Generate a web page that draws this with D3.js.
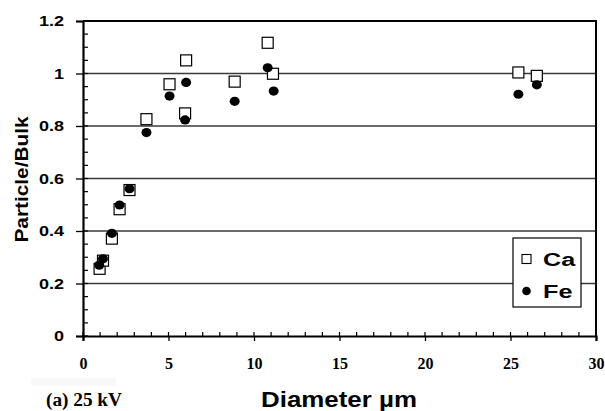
<!DOCTYPE html>
<html>
<head>
<meta charset="utf-8">
<script src="https://cdn.jsdelivr.net/npm/d3@7"></script>
<style>
  body { margin: 0; background: #fff; }
  svg { display: block; }
</style>
</head>
<body>
<svg id="chart" width="605" height="411"></svg>
<script>
// -------- data --------
const caDiam = [0.97, 1.17, 1.69, 2.14, 2.72, 3.71, 5.06, 5.97, 6.03, 8.87, 10.80, 11.11, 25.46, 26.54];
const caVal  = [0.256, 0.287, 0.371, 0.483, 0.556, 0.826, 0.959, 0.848, 1.050, 0.969, 1.117, 0.999, 1.004, 0.991];
const feDiam = [0.95, 1.17, 1.69, 2.14, 2.72, 3.71, 5.06, 5.97, 6.03, 8.87, 10.80, 11.15, 25.46, 26.54];
const feVal  = [0.270, 0.294, 0.391, 0.499, 0.561, 0.775, 0.914, 0.823, 0.966, 0.894, 1.022, 0.933, 0.921, 0.957];
const xTicks = [0, 5, 10, 15, 20, 25, 30];
const yTicks = [0, 0.2, 0.4, 0.6, 0.8, 1.0, 1.2];
const seriesNames = ["Ca", "Fe"];

const size = { w: 605, h: 411 };
const margin = { l: 83, r: 9, t: 21, b: 75 };
const SANS = "Liberation Sans, Arial, sans-serif";
const SERIF = "Liberation Serif, Times New Roman, serif";

const svg = d3.select("#chart");

// the scanned figure has wide, stretched lettering
function stretch(sel, w) {
	sel.each(function () {
		let len = typeof w === "number" ? w : this.getComputedTextLength() * w();
		d3.select(this)
			.attr("textLength", len)
			.attr("lengthAdjust", "spacingAndGlyphs");
	});
}

let xScale = d3.scaleLinear()
	.domain([0, 30])
	.range([margin.l, size.w - margin.r]);

let yScale = d3.scaleLinear()
	.domain([0, 1.2])
	.range([size.h - margin.b, margin.t]);

// gridlines
svg.append("g")
	.selectAll("line")
	.data(yTicks.filter((d) => d > 0 && d < 1.2))
	.join("line")
	.attr("x1", margin.l)
	.attr("x2", size.w - margin.r)
	.attr("y1", (d) => yScale(d))
	.attr("y2", (d) => yScale(d))
	.attr("stroke", "#3a3a3a")
	.attr("stroke-width", 1.3);

// frame top + right
svg.append("path")
	.attr("d", `M${margin.l},${yScale(1.2)}H${xScale(30)}V${yScale(0)}`)
	.attr("fill", "none")
	.attr("stroke", "#000")
	.attr("stroke-width", 2);

// minor ticks (inside)
let yMinor = d3.range(0, 1.2001, 0.05);
svg.append("g")
	.selectAll("line")
	.data(yMinor)
	.join("line")
	.attr("x1", margin.l)
	.attr("x2", margin.l + 5)
	.attr("y1", (d) => yScale(d))
	.attr("y2", (d) => yScale(d))
	.attr("stroke", "#000")
	.attr("stroke-width", 1.2);

let xMinor = d3.range(0, 30.001, 1);
svg.append("g")
	.selectAll("line")
	.data(xMinor)
	.join("line")
	.attr("x1", (d) => xScale(d))
	.attr("x2", (d) => xScale(d))
	.attr("y1", yScale(0))
	.attr("y2", yScale(0) - 4)
	.attr("stroke", "#000")
	.attr("stroke-width", 1.2);

// axes
let yAxis = d3.axisLeft(yScale)
	.tickValues(yTicks)
	.tickSize(7)
	.tickPadding(12)
	.tickFormat((d) => String(+d.toFixed(1)));
let yG = svg.append("g")
	.attr("transform", `translate(${margin.l}, 0)`)
	.call(yAxis);
yG.select(".domain").attr("stroke-width", 2.2);
yG.selectAll(".tick line").attr("stroke-width", 1.3);
yG.selectAll("text")
	.style("font-family", SANS)
	.style("font-weight", "bold")
	.style("font-size", "15px")
	.attr("fill", "#000")
	.call(stretch, () => 1.2);

let xAxis = d3.axisBottom(xScale)
	.tickValues(xTicks)
	.tickSize(5)
	.tickPadding(17);
let xG = svg.append("g")
	.attr("transform", `translate(0, ${yScale(0)})`)
	.call(xAxis);
xG.select(".domain").attr("stroke-width", 2.2);
xG.selectAll(".tick line").attr("stroke-width", 1.3);
xG.selectAll("text")
	.style("font-family", SERIF)
	.style("font-weight", "bold")
	.style("font-size", "16px")
	.attr("fill", "#000");

// axis titles
svg.append("text")
	.attr("transform", `translate(28, ${(yScale(0) + yScale(1.2)) / 2 + 1}) rotate(-90)`)
	.attr("text-anchor", "middle")
	.style("font-family", SANS)
	.style("font-weight", "bold")
	.style("font-size", "18px")
	.text("Particle/Bulk")
	.call(stretch, 126);

svg.append("text")
	.attr("x", 261)
	.attr("y", 407)
	.style("font-family", SANS)
	.style("font-weight", "bold")
	.style("font-size", "22px")
	.text("Diameter \u00b5m")
	.call(stretch, 156);

svg.append("rect")
	.attr("x", 31)
	.attr("y", 378)
	.attr("width", 85)
	.attr("height", 8)
	.attr("fill", "#f8f8f8");

svg.append("text")
	.attr("x", 46)
	.attr("y", 406)
	.style("font-family", SERIF)
	.style("font-weight", "bold")
	.style("font-size", "18px")
	.text("(a) 25 kV")
	.call(stretch, 76);

// points
let ca = caDiam.map((d, i) => ({ x: d, y: caVal[i] }));
let fe = feDiam.map((d, i) => ({ x: d, y: feVal[i] }));

svg.append("g")
	.selectAll("rect")
	.data(ca)
	.join("rect")
	.attr("x", (d) => xScale(d.x) - 5.5)
	.attr("y", (d) => yScale(d.y) - 5.5)
	.attr("width", 11)
	.attr("height", 11)
	.attr("fill", "#fff")
	.attr("stroke", "#000")
	.attr("stroke-width", 1.2);

svg.append("g")
	.selectAll("ellipse")
	.data(fe)
	.join("ellipse")
	.attr("cx", (d) => xScale(d.x))
	.attr("cy", (d) => yScale(d.y))
	.attr("rx", 5)
	.attr("ry", 4.6)
	.attr("fill", "#000");

// legend
let legend = svg.append("g").attr("transform", "translate(513, 238)");
legend.append("rect")
	.attr("width", 68)
	.attr("height", 69)
	.attr("fill", "#fff")
	.attr("stroke", "#000")
	.attr("stroke-width", 1.2);

let items = legend.selectAll("g.item")
	.data(seriesNames)
	.join("g")
	.attr("class", "item")
	.attr("transform", (d, i) => `translate(0, ${21 + i * 32})`);

items.filter((d) => d === "Ca")
	.append("rect")
	.attr("x", 9)
	.attr("y", -4.5)
	.attr("width", 9)
	.attr("height", 9)
	.attr("fill", "#fff")
	.attr("stroke", "#000")
	.attr("stroke-width", 1.1);
items.filter((d) => d === "Fe")
	.append("circle")
	.attr("cx", 13.5)
	.attr("cy", 0)
	.attr("r", 4.3)
	.attr("fill", "#000");

items.append("text")
	.attr("x", 30)
	.attr("y", 7)
	.style("font-family", SANS)
	.style("font-weight", "bold")
	.style("font-size", "18px")
	.text((d) => d)
	.call(stretch, () => 1.4);
</script>
</body>
</html>
